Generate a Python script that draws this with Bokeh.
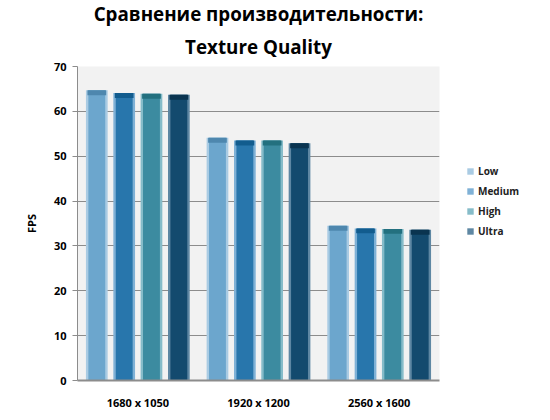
from bokeh.plotting import figure
from bokeh.models import ColumnDataSource, FactorRange, Range1d, Legend, LegendItem, Title
from bokeh.transform import dodge
from bokeh.embed import file_html
from bokeh.resources import INLINE

# ---- data ----
resolutions = ["1680 x 1050", "1920 x 1200", "2560 x 1600"]
series = ["Low", "Medium", "High", "Ultra"]
low = [64.7, 54.1, 34.5]
medium = [64.1, 53.5, 33.9]
high = [63.9, 53.5, 33.8]
ultra = [63.7, 52.9, 33.6]
y_ticks = [0, 10, 20, 30, 40, 50, 60, 70]
title_line1 = "Сравнение производительности:"
title_line2 = "Texture Quality"

colors = ["#6CA6CD", "#2876AC", "#3C8BA0", "#134A6E"]
edge_colors = ["#A9CBE3", "#7FB1D6", "#86BCC9", "#5E87A3"]
cap_colors = ["#4E87AE", "#125C8E", "#23707F", "#0A3450"]
offsets = [-0.34, -0.113, 0.113, 0.34]
FONT = "Open Sans"

cols = {"res": resolutions, "Low": low, "Medium": medium, "High": high, "Ultra": ultra}
for name, vals in zip(series, [low, medium, high, ultra]):
    cols[name + "_cap"] = [v - 1.1 for v in vals]
src = ColumnDataSource(cols)

p = figure(x_range=FactorRange(*resolutions), y_range=Range1d(0, 70),
           frame_width=362, frame_height=314,
           min_border_left=77, min_border_top=0, min_border_bottom=31, min_border_right=0,
           output_backend="svg", toolbar_location=None,
           background_fill_color="#F2F2F2", border_fill_color="white",
           outline_line_color=None)

p.title.text = title_line1
p.title.align = "center"
p.title.text_font = FONT
p.title.text_font_size = "18.8px"
p.title.text_font_style = "bold"
p.title.text_color = "#000000"
p.title.standoff = -3
p.title.offset = 0

t2 = Title(text=title_line2, align="center", text_font=FONT, text_font_size="18.8px",
           text_font_style="bold", text_color="#000000", standoff=13)
p.add_layout(t2, "above")

items = []
for name, c, ec, cc, off in zip(series, colors, edge_colors, cap_colors, offsets):
    x = dodge("res", off, range=p.x_range)
    outer = p.vbar(x=x, top=name, width=0.18, source=src, fill_color=ec, line_color=None)
    p.vbar(x=x, top=name, width=0.14, source=src, fill_color=c, line_color=None)
    p.vbar(x=x, top=name, bottom=name + "_cap", width=0.155, source=src, fill_color=cc, line_color=None)
    items.append(LegendItem(label=name, renderers=[outer]))

legend = Legend(items=items, location=(27, 142), orientation="vertical",
                glyph_width=8, glyph_height=8, label_height=14, spacing=6,
                label_standoff=4, padding=4, margin=0, border_line_color=None,
                background_fill_alpha=0,
                label_text_font=FONT, label_text_font_size="10px",
                label_text_font_style="bold", label_text_color="#222222")
p.add_layout(legend, "right")

# grid
p.xgrid.grid_line_color = None
p.ygrid.grid_line_color = "#8C8C8C"
p.ygrid.grid_line_width = 1
p.ygrid.ticker = y_ticks

# axes
p.yaxis.ticker = y_ticks
p.yaxis.axis_label = "FPS"
p.yaxis.axis_label_text_font = FONT
p.yaxis.axis_label_text_font_size = "11px"
p.yaxis.axis_label_text_font_style = "bold"
p.yaxis.axis_label_text_color = "#000000"
p.yaxis.axis_label_standoff = 12
p.yaxis.major_label_text_font = FONT
p.yaxis.major_label_text_font_size = "11px"
p.yaxis.major_label_text_font_style = "bold"
p.yaxis.major_label_text_color = "#000000"
p.yaxis.axis_line_color = "#8C8C8C"
p.yaxis.major_tick_line_color = "#8C8C8C"
p.yaxis.major_tick_out = 5
p.yaxis.major_tick_in = 0
p.yaxis.minor_tick_line_color = None
p.yaxis.major_label_standoff = 6

p.xaxis.major_label_text_font = FONT
p.xaxis.major_label_text_font_size = "11px"
p.xaxis.major_label_text_font_style = "bold"
p.xaxis.major_label_text_color = "#000000"
p.xaxis.axis_line_color = "#8C8C8C"
p.xaxis.axis_line_width = 2
p.xaxis.major_tick_line_color = None
p.xaxis.minor_tick_line_color = None
p.xaxis.major_label_standoff = 8

open("out.html", "w").write(file_html(p, INLINE))
